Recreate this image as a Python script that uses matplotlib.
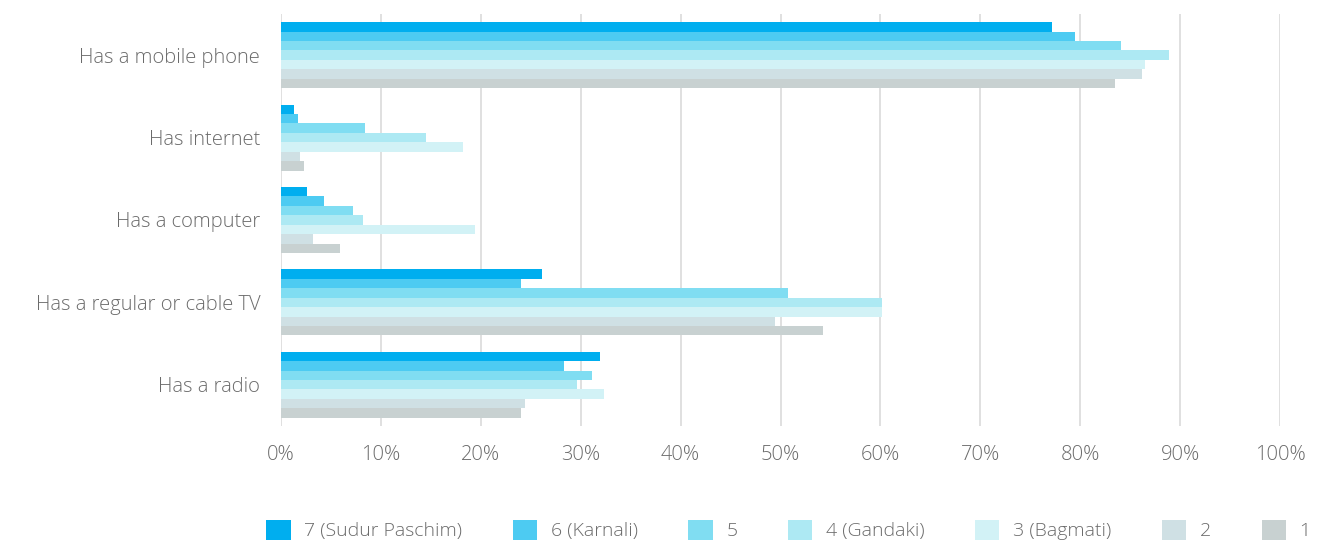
import numpy as np
import matplotlib.pyplot as plt
from matplotlib.patches import Patch

plt.rcParams['font.family'] = ['Open Sans', 'DejaVu Sans']

categories = ['Has a mobile phone', 'Has internet', 'Has a computer',
              'Has a regular or cable TV', 'Has a radio']
provinces = ['7 (Sudur Paschim)', '6 (Karnali)', '5', '4 (Gandaki)',
             '3 (Bagmati)', '2', '1']
colors = ['#00AEEF', '#4DCBF2', '#80DDF2', '#ADE9F3', '#D2F2F6', '#CFE0E4', '#C8D1D1']

# percent of households, one list per province
p7 = [77.2, 1.3, 2.6, 26.1, 31.9]
p6 = [79.5, 1.7, 4.3, 24.0, 28.3]
p5 = [84.1, 8.4, 7.2, 50.7, 31.1]
p4 = [88.9, 14.5, 8.2, 60.2, 29.6]
p3 = [86.5, 18.2, 19.4, 60.2, 32.3]
p2 = [86.2, 1.9, 3.2, 49.4, 24.4]
p1 = [83.5, 2.3, 5.9, 54.3, 24.0]
series = [p7, p6, p5, p4, p3, p2, p1]

txt = '#6b6b6b'

fig = plt.figure(figsize=(13.2, 5.43), dpi=100)
ax = fig.add_axes([0.2129, 0.2155, 0.7568, 0.7587])

y = np.arange(len(categories))
h = 0.8 / len(series)
for j, (vals, col) in enumerate(zip(series, colors)):
    ax.barh(y + (j - 3) * h, vals, height=h, color=col, zorder=3, linewidth=0)

ax.set_ylim(-0.5, len(categories) - 0.5)
ax.invert_yaxis()
ax.set_xlim(0, 100)
ax.set_xticks(np.arange(0, 101, 10))
ax.set_xticklabels([f'{v}%' for v in range(0, 101, 10)])
ax.set_yticks(y)
ax.set_yticklabels(categories)
ax.tick_params(axis='both', length=0, labelsize=14.5, labelcolor=txt)
ax.tick_params(axis='y', pad=15)
ax.tick_params(axis='x', pad=14)
for lab in ax.get_xticklabels() + ax.get_yticklabels():
    lab.set_fontweight('light')
ax.grid(axis='x', color='#dddddd', linewidth=1.3, zorder=0)
for s in ax.spines.values():
    s.set_visible(False)

handles = [Patch(facecolor=c, edgecolor='none') for c in colors]
leg = fig.legend(handles, provinces, loc='center left', bbox_to_anchor=(0.196, 0.024),
                 ncol=7, frameon=False, fontsize=14, handlelength=1.25, handleheight=1.25,
                 columnspacing=2.6, handletextpad=0.7, labelcolor=txt, borderaxespad=0)
for t in leg.get_texts():
    t.set_fontweight('light')

fig.savefig('out.png', dpi=100)
